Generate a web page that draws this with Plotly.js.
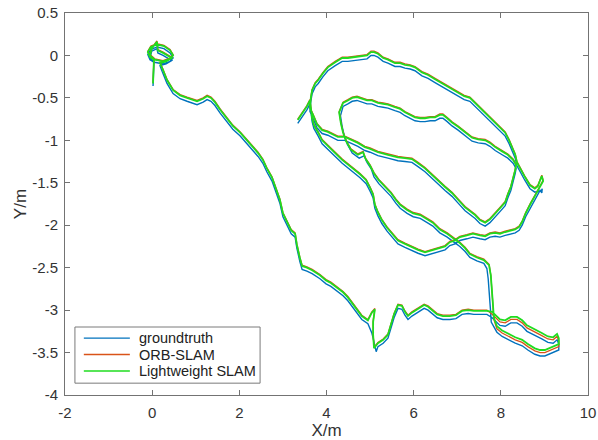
<!DOCTYPE html>
<html>
<head>
<meta charset="utf-8">
<script src="https://cdn.plot.ly/plotly-3.0.1.min.js"></script>
<style>
  html, body { margin: 0; padding: 0; background: #fff; }
  #chart { width: 598px; height: 440px; }
</style>
</head>
<body>
<div id="chart"></div>
<script>
// Trajectory estimates in the X-Y plane (metres), in travel order:
// start loop, long run to the lower-right, return, inner loop, V, outer loop, U, end.

// Lightweight SLAM
const lwX = [
  0.02,0.04,0.04,-0.05,-0.10,-0.03,0.11,0.27,0.41,0.48,0.41,0.25,0.06,-0.05,-0.01,0.11,0.13,0.25,0.39,0.45,0.32,0.18,
  0.23,0.34,0.48,0.64,0.80,1.03,1.17,1.26,1.35,1.44,1.56,1.72,1.85,2.02,2.18,2.31,2.43,2.54,2.63,2.75,2.86,2.93,3.00,3.09,
  3.19,3.28,3.32,3.39,3.44,3.55,3.67,3.85,3.99,4.10,4.24,4.38,4.49,4.59,4.70,4.81,4.95,5.04,5.11,5.07,5.07,5.09,5.18,5.30,
  5.41,5.48,5.55,5.64,5.73,5.80,5.87,5.96,6.05,6.15,6.24,6.33,6.42,6.54,6.67,6.83,6.97,7.11,7.25,7.38,7.52,7.68,7.80,7.89,
  7.98,8.10,8.23,8.37,8.49,8.60,8.72,8.83,8.94,9.08,9.20,9.29,9.33,9.33,
  9.24,9.13,9.01,8.90,8.78,8.62,8.49,8.33,8.16,8.03,7.91,7.84,7.82,7.80,7.77,7.73,7.61,7.45,7.29,7.18,7.06,6.90,6.77,6.60,
  6.44,6.31,6.15,5.99,5.85,5.69,5.59,5.48,5.34,5.20,5.09,5.00,4.91,4.88,4.84,4.72,4.56,4.45,4.38,4.33,4.29,
  4.38,4.49,4.59,4.70,4.81,4.93,5.04,5.18,5.30,5.41,5.57,5.69,5.80,5.92,6.03,6.15,6.26,6.38,6.49,6.60,6.67,6.77,6.88,7.02,
  7.18,7.34,7.48,7.64,7.75,7.87,8.03,8.16,8.28,8.35,
  8.33,8.28,8.23,8.16,8.10,7.98,7.87,7.75,7.64,7.52,7.41,7.29,7.18,7.02,6.88,6.72,6.56,6.42,6.26,6.10,5.96,5.80,5.64,5.41,
  5.18,5.00,4.88,4.72,4.59,4.42,4.26,4.13,4.03,3.90,3.78,3.69,3.62,
  3.64,3.67,3.74,3.81,3.92,4.03,4.20,4.36,4.49,4.65,4.81,4.93,5.02,5.09,5.18,5.30,5.41,5.57,5.69,5.80,5.92,6.03,6.19,6.33,
  6.49,6.65,6.83,7.02,7.16,7.29,7.41,7.52,7.66,7.80,7.94,8.10,8.19,8.26,8.33,8.37,8.46,8.55,8.67,8.78,8.85,8.90,8.94,8.97,
  8.90,8.80,8.68,8.57,8.49,8.42,8.33,8.23,8.10,7.98,7.87,7.75,7.64,7.52,7.36,7.22,7.06,6.95,6.83,6.72,6.60,6.42,6.26,6.10,
  5.96,5.80,5.64,5.50,5.39,5.27,5.18,5.11,5.07,5.00,4.91,4.77,4.65,4.49,4.36,4.20,4.03,3.90,3.81,3.71,3.67,
  3.64,3.62,3.55,3.45,3.34
];
const lwY = [
  -0.33,-0.17,-0.05,-0.02,0.04,0.10,0.13,0.11,0.06,0.00,-0.04,-0.07,-0.05,0.00,0.08,0.16,0.06,0.03,-0.01,-0.03,-0.07,-0.09,
  -0.15,-0.29,-0.41,-0.47,-0.50,-0.54,-0.51,-0.48,-0.50,-0.55,-0.64,-0.74,-0.83,-0.91,-1.00,-1.07,-1.15,-1.23,-1.33,-1.44,-1.59,-1.70,-1.86,-1.96,
  -2.06,-2.10,-2.23,-2.39,-2.48,-2.50,-2.53,-2.59,-2.65,-2.68,-2.74,-2.79,-2.85,-2.92,-3.00,-3.07,-3.12,-3.03,-2.99,-3.14,-3.29,-3.45,-3.39,-3.35,
  -3.29,-3.18,-3.05,-2.94,-2.95,-3.02,-3.07,-3.03,-3.00,-2.96,-2.94,-2.96,-3.00,-3.05,-3.07,-3.07,-3.06,-3.01,-3.00,-3.01,-3.01,-3.01,-3.02,-3.06,
  -3.11,-3.12,-3.08,-3.08,-3.12,-3.18,-3.21,-3.24,-3.27,-3.31,-3.32,-3.28,-3.33,-3.40,
  -3.42,-3.45,-3.47,-3.47,-3.45,-3.40,-3.35,-3.32,-3.28,-3.24,-3.19,-3.09,-2.94,-2.76,-2.59,-2.47,-2.41,-2.38,-2.34,-2.27,-2.21,-2.15,-2.10,-2.05,
  -1.97,-1.93,-1.88,-1.86,-1.82,-1.76,-1.70,-1.62,-1.55,-1.47,-1.39,-1.30,-1.23,-1.20,-1.14,-1.17,-1.11,-1.01,-0.91,-0.80,-0.67,
  -0.56,-0.53,-0.50,-0.49,-0.51,-0.53,-0.53,-0.56,-0.57,-0.58,-0.61,-0.63,-0.67,-0.70,-0.73,-0.74,-0.74,-0.73,-0.73,-0.70,-0.70,-0.74,-0.79,-0.84,
  -0.90,-0.97,-0.99,-1.00,-1.03,-1.08,-1.13,-1.17,-1.23,-1.29,
  -1.35,-1.44,-1.55,-1.64,-1.73,-1.80,-1.86,-1.93,-1.97,-1.94,-1.88,-1.83,-1.79,-1.70,-1.62,-1.55,-1.47,-1.40,-1.33,-1.27,-1.22,-1.21,-1.20,-1.17,
  -1.14,-1.10,-1.08,-1.03,-1.00,-0.96,-0.96,-0.93,-0.90,-0.88,-0.81,-0.70,-0.62,
  -0.50,-0.41,-0.33,-0.29,-0.21,-0.14,-0.08,-0.03,-0.03,-0.02,-0.01,0.00,0.04,0.04,0.02,-0.03,-0.05,-0.09,-0.09,-0.11,-0.12,-0.14,-0.20,-0.23,
  -0.28,-0.33,-0.38,-0.44,-0.48,-0.50,-0.56,-0.62,-0.69,-0.76,-0.83,-0.91,-1.00,-1.08,-1.17,-1.26,-1.35,-1.43,-1.53,-1.57,-1.54,-1.47,-1.42,-1.48,
  -1.55,-1.64,-1.75,-1.86,-1.96,-2.02,-2.05,-2.06,-2.08,-2.10,-2.09,-2.10,-2.13,-2.12,-2.10,-2.12,-2.14,-2.18,-2.20,-2.25,-2.27,-2.30,-2.32,-2.29,
  -2.26,-2.22,-2.18,-2.10,-2.03,-1.94,-1.85,-1.76,-1.64,-1.56,-1.47,-1.40,-1.35,-1.28,-1.23,-1.15,-1.07,-1.00,-0.91,-0.82,-0.74,
  -0.62,-0.53,-0.60,-0.68,-0.76
];

// Ground truth
const gtX = [
  0.02,0.04,0.04,-0.05,-0.10,-0.03,0.11,0.27,0.41,0.48,0.41,0.25,0.06,-0.05,-0.01,0.11,0.13,0.25,0.39,0.45,0.32,0.18,
  0.23,0.34,0.48,0.64,0.80,1.03,1.17,1.26,1.35,1.44,1.56,1.72,1.85,2.02,2.18,2.31,2.43,2.54,2.63,2.75,2.86,2.93,3.00,3.09,
  3.19,3.28,3.32,3.39,3.44,3.55,3.67,3.85,3.99,4.10,4.24,4.38,4.49,4.59,4.70,4.81,4.95,5.00,5.04,5.07,5.10,5.14,5.18,5.30,
  5.41,5.48,5.55,5.64,5.73,5.80,5.87,5.96,6.05,6.15,6.24,6.33,6.42,6.54,6.67,6.83,6.97,7.11,7.25,7.38,7.52,7.68,7.80,7.89,
  7.98,8.10,8.23,8.37,8.49,8.60,8.72,8.83,8.94,9.08,9.20,9.29,9.33,9.33,
  9.24,9.13,9.01,8.90,8.78,8.62,8.49,8.33,8.16,8.03,7.91,7.78,7.76,7.74,7.71,7.68,7.61,7.45,7.29,7.18,7.06,6.90,6.77,6.60,
  6.44,6.31,6.15,5.99,5.85,5.69,5.59,5.48,5.34,5.20,5.09,5.03,4.94,4.91,4.87,4.75,4.59,4.48,4.41,4.36,4.32,
  4.38,4.49,4.59,4.70,4.81,4.93,5.04,5.18,5.30,5.41,5.57,5.69,5.80,5.92,6.03,6.15,6.26,6.38,6.49,6.60,6.67,6.77,6.88,7.02,
  7.18,7.34,7.48,7.64,7.75,7.87,8.03,8.16,8.28,8.35,
  8.33,8.28,8.23,8.16,8.10,7.98,7.87,7.75,7.64,7.52,7.41,7.29,7.18,7.02,6.88,6.72,6.56,6.42,6.26,6.10,5.96,5.80,5.64,5.41,
  5.18,5.00,4.88,4.72,4.59,4.42,4.26,4.13,4.03,3.90,3.78,3.69,3.62,
  3.64,3.67,3.74,3.81,3.92,4.03,4.20,4.36,4.49,4.65,4.81,4.93,5.02,5.09,5.18,5.30,5.41,5.57,5.69,5.80,5.92,6.03,6.19,6.33,
  6.49,6.65,6.83,7.02,7.16,7.29,7.41,7.52,7.66,7.80,7.94,8.10,8.19,8.26,8.33,8.37,8.46,8.55,8.67,8.78,8.85,8.92,8.95,8.94,
  8.90,8.80,8.68,8.57,8.49,8.42,8.33,8.23,8.10,7.98,7.87,7.75,7.64,7.52,7.36,7.22,7.06,6.95,6.83,6.72,6.60,6.42,6.26,6.10,
  5.96,5.80,5.64,5.50,5.39,5.27,5.18,5.11,5.07,5.00,4.91,4.77,4.65,4.49,4.36,4.20,4.03,3.90,3.81,3.71,3.67,
  3.64,3.62,3.55,3.45,3.34
];
const gtY = [
  -0.36,-0.20,-0.08,-0.05,0.01,0.07,0.10,0.08,0.03,-0.03,-0.07,-0.10,-0.08,-0.03,0.05,0.08,0.03,0.00,-0.04,-0.06,-0.10,-0.12,
  -0.19,-0.33,-0.45,-0.51,-0.54,-0.58,-0.55,-0.52,-0.54,-0.59,-0.68,-0.78,-0.87,-0.95,-1.04,-1.11,-1.19,-1.27,-1.37,-1.48,-1.63,-1.74,-1.90,-2.00,
  -2.10,-2.14,-2.27,-2.43,-2.52,-2.54,-2.57,-2.63,-2.69,-2.72,-2.78,-2.83,-2.89,-2.96,-3.04,-3.11,-3.16,-3.22,-3.27,-3.33,-3.40,-3.49,-3.43,-3.39,
  -3.33,-3.22,-3.09,-2.98,-2.99,-3.06,-3.11,-3.07,-3.04,-3.00,-2.98,-3.00,-3.04,-3.09,-3.11,-3.11,-3.10,-3.05,-3.04,-3.05,-3.05,-3.05,-3.09,-3.13,
  -3.18,-3.19,-3.15,-3.15,-3.19,-3.25,-3.28,-3.31,-3.34,-3.38,-3.39,-3.35,-3.40,-3.47,
  -3.49,-3.52,-3.54,-3.54,-3.52,-3.47,-3.42,-3.39,-3.35,-3.31,-3.26,-3.14,-2.98,-2.80,-2.63,-2.51,-2.45,-2.42,-2.38,-2.31,-2.25,-2.19,-2.14,-2.09,
  -2.01,-1.97,-1.92,-1.90,-1.86,-1.80,-1.74,-1.66,-1.59,-1.51,-1.43,-1.34,-1.27,-1.24,-1.18,-1.21,-1.15,-1.05,-0.95,-0.84,-0.71,
  -0.60,-0.57,-0.54,-0.53,-0.55,-0.57,-0.57,-0.60,-0.61,-0.62,-0.65,-0.67,-0.71,-0.74,-0.77,-0.78,-0.78,-0.77,-0.77,-0.74,-0.74,-0.78,-0.83,-0.88,
  -0.94,-1.01,-1.03,-1.04,-1.07,-1.12,-1.17,-1.21,-1.27,-1.33,
  -1.39,-1.48,-1.59,-1.68,-1.77,-1.84,-1.90,-1.97,-2.01,-1.98,-1.92,-1.87,-1.83,-1.74,-1.66,-1.59,-1.51,-1.44,-1.37,-1.31,-1.26,-1.25,-1.24,-1.21,
  -1.18,-1.14,-1.12,-1.07,-1.04,-1.00,-1.00,-0.97,-0.94,-0.92,-0.85,-0.74,-0.66,
  -0.54,-0.45,-0.37,-0.33,-0.25,-0.18,-0.12,-0.07,-0.07,-0.06,-0.05,-0.04,0.00,0.00,-0.02,-0.07,-0.09,-0.13,-0.13,-0.15,-0.16,-0.18,-0.24,-0.27,
  -0.32,-0.37,-0.42,-0.48,-0.52,-0.54,-0.60,-0.66,-0.73,-0.80,-0.87,-0.95,-1.04,-1.12,-1.21,-1.30,-1.39,-1.47,-1.57,-1.61,-1.60,-1.60,-1.57,-1.62,
  -1.59,-1.68,-1.79,-1.90,-2.00,-2.06,-2.09,-2.10,-2.12,-2.14,-2.13,-2.14,-2.17,-2.16,-2.14,-2.16,-2.18,-2.22,-2.24,-2.29,-2.31,-2.34,-2.36,-2.33,
  -2.30,-2.26,-2.22,-2.14,-2.07,-1.98,-1.89,-1.80,-1.68,-1.60,-1.51,-1.44,-1.39,-1.32,-1.27,-1.19,-1.11,-1.04,-0.95,-0.86,-0.78,
  -0.66,-0.57,-0.64,-0.72,-0.80
];

// ORB-SLAM (same sampling as Lightweight SLAM)
const orbX = lwX;
const orbY = [
  -0.32,-0.16,-0.04,-0.01,0.05,0.11,0.14,0.12,0.07,0.01,-0.03,-0.06,-0.04,0.01,0.09,0.17,0.07,0.04,0.00,-0.02,-0.06,-0.08,
  -0.14,-0.28,-0.40,-0.46,-0.49,-0.53,-0.50,-0.47,-0.49,-0.54,-0.63,-0.73,-0.82,-0.90,-0.99,-1.06,-1.14,-1.22,-1.32,-1.43,-1.58,-1.69,-1.85,-1.95,
  -2.05,-2.09,-2.22,-2.38,-2.47,-2.49,-2.52,-2.58,-2.64,-2.67,-2.73,-2.78,-2.84,-2.91,-2.99,-3.06,-3.11,-3.02,-2.98,-3.13,-3.28,-3.44,-3.38,-3.34,
  -3.28,-3.17,-3.04,-2.93,-2.94,-3.01,-3.06,-3.02,-2.99,-2.95,-2.93,-2.95,-2.99,-3.04,-3.06,-3.06,-3.05,-3.00,-2.99,-3.00,-3.00,-3.00,-3.05,-3.09,
  -3.14,-3.15,-3.11,-3.11,-3.15,-3.21,-3.24,-3.27,-3.30,-3.34,-3.35,-3.31,-3.36,-3.43,
  -3.45,-3.48,-3.50,-3.50,-3.48,-3.43,-3.38,-3.35,-3.31,-3.27,-3.22,-3.11,-2.95,-2.77,-2.59,-2.46,-2.40,-2.37,-2.33,-2.26,-2.20,-2.14,-2.09,-2.04,
  -1.96,-1.92,-1.87,-1.85,-1.81,-1.75,-1.69,-1.61,-1.54,-1.46,-1.38,-1.29,-1.22,-1.19,-1.13,-1.16,-1.10,-1.00,-0.90,-0.79,-0.66,
  -0.55,-0.52,-0.49,-0.48,-0.50,-0.52,-0.52,-0.55,-0.56,-0.57,-0.60,-0.62,-0.66,-0.69,-0.72,-0.73,-0.73,-0.72,-0.72,-0.69,-0.69,-0.73,-0.78,-0.83,
  -0.89,-0.96,-0.98,-0.99,-1.02,-1.07,-1.12,-1.16,-1.22,-1.28,
  -1.34,-1.43,-1.54,-1.63,-1.72,-1.79,-1.85,-1.92,-1.96,-1.93,-1.87,-1.82,-1.78,-1.69,-1.61,-1.54,-1.46,-1.39,-1.32,-1.26,-1.21,-1.20,-1.19,-1.16,
  -1.13,-1.09,-1.07,-1.02,-0.99,-0.95,-0.95,-0.92,-0.89,-0.87,-0.80,-0.69,-0.61,
  -0.49,-0.40,-0.32,-0.28,-0.20,-0.13,-0.07,-0.02,-0.02,-0.01,0.00,0.01,0.05,0.05,0.03,-0.02,-0.04,-0.08,-0.08,-0.10,-0.11,-0.13,-0.19,-0.22,
  -0.27,-0.32,-0.37,-0.43,-0.47,-0.49,-0.55,-0.61,-0.68,-0.75,-0.82,-0.90,-0.99,-1.07,-1.16,-1.25,-1.34,-1.42,-1.52,-1.56,-1.53,-1.46,-1.41,-1.47,
  -1.54,-1.63,-1.74,-1.85,-1.95,-2.01,-2.04,-2.05,-2.07,-2.09,-2.08,-2.09,-2.12,-2.11,-2.09,-2.11,-2.13,-2.17,-2.19,-2.24,-2.26,-2.29,-2.31,-2.28,
  -2.25,-2.21,-2.17,-2.09,-2.02,-1.93,-1.84,-1.75,-1.63,-1.55,-1.46,-1.39,-1.34,-1.27,-1.22,-1.14,-1.06,-0.99,-0.90,-0.81,-0.73,
  -0.61,-0.52,-0.59,-0.67,-0.75
];

const seriesNames = ['groundtruth', 'ORB-SLAM', 'Lightweight SLAM'];
const seriesColors = ['#0072BD', '#D95319', '#1fdc1f'];
const seriesWidths = [1.4, 1.3, 1.8];
const xTickVals = [-2, 0, 2, 4, 6, 8, 10];
const xTickText = ['-2', '0', '2', '4', '6', '8', '10'];
const yTickVals = [-4, -3.5, -3, -2.5, -2, -1.5, -1, -0.5, 0, 0.5];
const yTickText = ['-4', '-3.5', '-3', '-2.5', '-2', '-1.5', '-1', '-0.5', '0', '0.5'];

const FONT = '"Liberation Sans", Arial, Helvetica, sans-serif';
const AXIS_GREY = '#737373';

const data = [[gtX, gtY], [orbX, orbY], [lwX, lwY]];
const traces = data.map(([x, y], i) => ({
  type: 'scatter',
  mode: 'lines',
  x: x,
  y: y,
  name: seriesNames[i],
  hoverinfo: 'skip',
  showlegend: false,
  line: { color: seriesColors[i], width: seriesWidths[i] }
}));

// Compact boxed legend in the lower-left corner (paper coordinates).
const LEG = { x0: 0.019, x1: 0.373, y0: 0.031, y1: 0.178,
              lineX0: 0.036, lineX1: 0.124, textX: 0.138,
              rowY: [0.149, 0.106, 0.063] };
const shapes = [{
  type: 'rect', xref: 'paper', yref: 'paper',
  x0: LEG.x0, x1: LEG.x1, y0: LEG.y0, y1: LEG.y1,
  line: { color: '#7a7a7a', width: 1 }, fillcolor: '#ffffff', layer: 'above'
}];
const annotations = [];
seriesNames.forEach((name, i) => {
  shapes.push({
    type: 'line', xref: 'paper', yref: 'paper',
    x0: LEG.lineX0, x1: LEG.lineX1, y0: LEG.rowY[i], y1: LEG.rowY[i],
    line: { color: seriesColors[i], width: Math.min(seriesWidths[i], 1.5) }, layer: 'above'
  });
  annotations.push({
    xref: 'paper', yref: 'paper', x: LEG.textX, y: LEG.rowY[i],
    xanchor: 'left', yanchor: 'middle', showarrow: false,
    text: name, font: { family: FONT, size: 14.5, color: '#222222' }
  });
});

const axisBase = {
  showgrid: false,
  zeroline: false,
  showline: true,
  mirror: 'ticks',
  linecolor: AXIS_GREY,
  linewidth: 1,
  ticks: 'inside',
  ticklen: 5,
  tickwidth: 1,
  tickcolor: AXIS_GREY,
  tickmode: 'array',
  tickfont: { family: FONT, size: 15, color: '#333333' }
};

const layout = {
  width: 598,
  height: 440,
  margin: { l: 65, r: 10, t: 13, b: 45 },
  paper_bgcolor: '#ffffff',
  plot_bgcolor: '#ffffff',
  font: { family: FONT, color: '#333333' },
  showlegend: false,
  shapes: shapes,
  annotations: annotations,
  xaxis: Object.assign({}, axisBase, {
    range: [-2, 10],
    tickvals: xTickVals,
    ticktext: xTickText,
    ticklabelstandoff: 4,
    title: { text: 'X/m', font: { family: FONT, size: 17, color: '#333333' }, standoff: 0 }
  }),
  yaxis: Object.assign({}, axisBase, {
    range: [-4, 0.5],
    tickvals: yTickVals,
    ticktext: yTickText,
    ticklabelstandoff: 3,
    title: { text: 'Y/m', font: { family: FONT, size: 17, color: '#333333' }, standoff: 1 }
  })
};

Plotly.newPlot('chart', traces, layout, { staticPlot: true, displayModeBar: false });
</script>
</body>
</html>
